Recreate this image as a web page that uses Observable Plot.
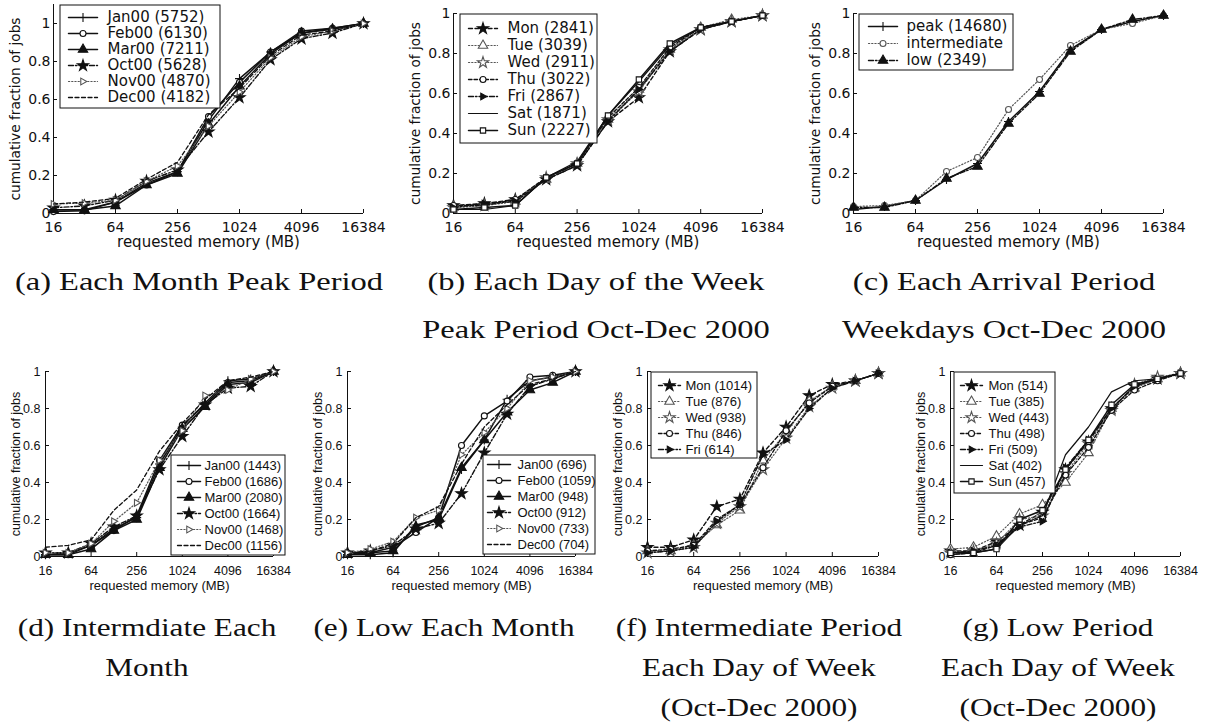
<!DOCTYPE html>
<html>
<head>
<meta charset="utf-8">
<script src="https://cdn.jsdelivr.net/npm/d3@7"></script>
<script src="https://cdn.jsdelivr.net/npm/@observablehq/plot@0.6"></script>
<style>
  body { margin: 0; background: #fff; }
  #fig { position: relative; width: 1206px; height: 725px; overflow: hidden; background: #fff; }
  .panel { position: absolute; }
  .panel svg { overflow: visible; }
  .cap {
    position: absolute; width: 400px; text-align: center; white-space: nowrap;
    font-family: "Liberation Serif", "Times New Roman", serif; color: #111;
    transform: scaleX(1.25); transform-origin: 50% 0;
  }
</style>
</head>
<body>
<div id="fig"></div>
<script>
// Requested memory bins (MB) shared by every panel
const memory = [16, 32, 64, 128, 256, 512, 1024, 2048, 4096, 8192, 16384];
const memoryTicks = [16, 64, 256, 1024, 4096, 16384];
const fractionTicks = [0, 0.2, 0.4, 0.6, 0.8, 1];

// (a) Each month, peak period
const monthLabelsPeak = ["Jan00 (5752)", "Feb00 (6130)", "Mar00 (7211)", "Oct00 (5628)", "Nov00 (4870)", "Dec00 (4182)"];
const jan00Peak = [0.02, 0.02, 0.06, 0.16, 0.22, 0.49, 0.71, 0.85, 0.95, 0.975, 1.0];
const feb00Peak = [0.01, 0.015, 0.06, 0.15, 0.22, 0.51, 0.69, 0.85, 0.96, 0.975, 1.0];
const mar00Peak = [0.02, 0.02, 0.04, 0.15, 0.21, 0.47, 0.67, 0.84, 0.95, 0.97, 1.0];
const oct00Peak = [0.03, 0.04, 0.07, 0.17, 0.23, 0.43, 0.61, 0.81, 0.92, 0.95, 1.0];
const nov00Peak = [0.05, 0.055, 0.07, 0.17, 0.25, 0.46, 0.64, 0.82, 0.93, 0.96, 1.0];
const dec00Peak = [0.05, 0.06, 0.08, 0.18, 0.27, 0.52, 0.66, 0.83, 0.94, 0.96, 1.0];

// (b) Each day of the week, peak period Oct-Dec 2000
const dayLabelsPeak = ["Mon (2841)", "Tue (3039)", "Wed (2911)", "Thu (3022)", "Fri (2867)", "Sat (1871)", "Sun (2227)"];
const monPeak = [0.04, 0.05, 0.07, 0.17, 0.24, 0.46, 0.58, 0.81, 0.92, 0.96, 0.99];
const tuePeak = [0.03, 0.04, 0.06, 0.17, 0.25, 0.47, 0.62, 0.82, 0.93, 0.97, 0.99];
const wedPeak = [0.03, 0.04, 0.06, 0.18, 0.25, 0.47, 0.61, 0.82, 0.92, 0.96, 0.99];
const thuPeak = [0.04, 0.04, 0.07, 0.18, 0.25, 0.48, 0.63, 0.83, 0.93, 0.96, 0.99];
const friPeak = [0.03, 0.05, 0.06, 0.17, 0.24, 0.46, 0.62, 0.81, 0.92, 0.96, 0.99];
const satPeak = [0.02, 0.02, 0.04, 0.18, 0.26, 0.49, 0.66, 0.84, 0.93, 0.96, 0.99];
const sunPeak = [0.02, 0.03, 0.04, 0.18, 0.25, 0.49, 0.67, 0.85, 0.93, 0.96, 0.99];

// (c) Each arrival period, weekdays Oct-Dec 2000
const periodLabels = ["peak (14680)", "intermediate", "low (2349)"];
const peakPeriod = [0.02, 0.035, 0.065, 0.17, 0.25, 0.46, 0.61, 0.82, 0.92, 0.96, 0.99];
const intermediatePeriod = [0.035, 0.04, 0.065, 0.21, 0.28, 0.52, 0.67, 0.84, 0.92, 0.95, 0.99];
const lowPeriod = [0.03, 0.03, 0.065, 0.175, 0.235, 0.45, 0.60, 0.81, 0.92, 0.97, 0.99];

// (d) Intermediate period, each month
const monthLabelsInter = ["Jan00 (1443)", "Feb00 (1686)", "Mar00 (2080)", "Oct00 (1664)", "Nov00 (1468)", "Dec00 (1156)"];
const jan00Inter = [0.01, 0.02, 0.06, 0.15, 0.21, 0.50, 0.70, 0.83, 0.95, 0.96, 1.0];
const feb00Inter = [0.01, 0.01, 0.06, 0.14, 0.22, 0.52, 0.71, 0.82, 0.94, 0.95, 1.0];
const mar00Inter = [0.01, 0.01, 0.04, 0.14, 0.20, 0.48, 0.69, 0.81, 0.93, 0.94, 1.0];
const oct00Inter = [0.02, 0.02, 0.07, 0.16, 0.22, 0.47, 0.65, 0.82, 0.91, 0.92, 1.0];
const nov00Inter = [0.02, 0.02, 0.07, 0.19, 0.29, 0.52, 0.68, 0.87, 0.90, 0.96, 1.0];
const dec00Inter = [0.05, 0.06, 0.09, 0.25, 0.36, 0.57, 0.72, 0.85, 0.95, 0.97, 1.0];

// (e) Low period, each month
const monthLabelsLow = ["Jan00 (696)", "Feb00 (1059)", "Mar00 (948)", "Oct00 (912)", "Nov00 (733)", "Dec00 (704)"];
const jan00Low = [0.01, 0.01, 0.02, 0.17, 0.20, 0.47, 0.63, 0.85, 0.95, 0.97, 1.0];
const feb00Low = [0.02, 0.02, 0.05, 0.13, 0.21, 0.60, 0.76, 0.84, 0.97, 0.98, 1.0];
const mar00Low = [0.01, 0.02, 0.03, 0.16, 0.21, 0.48, 0.63, 0.78, 0.90, 0.94, 1.0];
const oct00Low = [0.02, 0.03, 0.06, 0.15, 0.18, 0.34, 0.56, 0.77, 0.92, 0.96, 1.0];
const nov00Low = [0.02, 0.04, 0.08, 0.21, 0.25, 0.55, 0.67, 0.80, 0.95, 0.97, 1.0];
const dec00Low = [0.01, 0.03, 0.07, 0.21, 0.27, 0.50, 0.70, 0.82, 0.93, 0.96, 1.0];

// (f) Intermediate period, each weekday Oct-Dec 2000
const dayLabelsInter = ["Mon (1014)", "Tue (876)", "Wed (938)", "Thu (846)", "Fri (614)"];
const monInter = [0.05, 0.05, 0.09, 0.27, 0.31, 0.56, 0.70, 0.87, 0.93, 0.95, 0.99];
const tueInter = [0.03, 0.03, 0.06, 0.17, 0.25, 0.52, 0.67, 0.84, 0.92, 0.95, 0.99];
const wedInter = [0.02, 0.03, 0.05, 0.18, 0.27, 0.47, 0.64, 0.81, 0.91, 0.95, 0.99];
const thuInter = [0.03, 0.04, 0.06, 0.20, 0.28, 0.48, 0.68, 0.83, 0.92, 0.95, 0.99];
const friInter = [0.02, 0.03, 0.05, 0.19, 0.28, 0.55, 0.63, 0.80, 0.91, 0.95, 0.99];

// (g) Low period, each day of week Oct-Dec 2000
const dayLabelsLow = ["Mon (514)", "Tue (385)", "Wed (443)", "Thu (498)", "Fri (509)", "Sat (402)", "Sun (457)"];
const monLow = [0.03, 0.03, 0.08, 0.17, 0.24, 0.47, 0.62, 0.80, 0.92, 0.96, 0.99];
const tueLow = [0.04, 0.05, 0.11, 0.23, 0.28, 0.40, 0.56, 0.80, 0.91, 0.96, 0.99];
const wedLow = [0.02, 0.03, 0.07, 0.20, 0.22, 0.45, 0.61, 0.79, 0.93, 0.97, 0.99];
const thuLow = [0.01, 0.02, 0.06, 0.17, 0.21, 0.44, 0.59, 0.79, 0.90, 0.95, 0.99];
const friLow = [0.02, 0.03, 0.06, 0.16, 0.19, 0.48, 0.63, 0.80, 0.92, 0.96, 0.99];
const satLow = [0.01, 0.02, 0.04, 0.17, 0.22, 0.55, 0.70, 0.89, 0.95, 0.96, 0.99];
const sunLow = [0.02, 0.02, 0.04, 0.20, 0.25, 0.47, 0.63, 0.82, 0.93, 0.96, 0.99];

// A right-pointing triangle marker
const triangleRight = {
  draw(context, size) {
    const s = Math.sqrt(size) * 0.55;
    context.moveTo(s * 1.1, 0);
    context.lineTo(-s * 0.65, -s);
    context.lineTo(-s * 0.65, s);
    context.closePath();
  }
};

// Line and marker styles for each series kind
const INK = "#111", GREY = "#555";
const STYLES = {
  plus:      {color: INK,  width: 1.5, dash: null,          symbol: "plus",        fill: "none", r: 3},
  circle:    {color: INK,  width: 1.5, dash: null,          symbol: "circle",      fill: "#fff", r: 3},
  triangle:  {color: INK,  width: 1.5, dash: null,          symbol: "triangle",    fill: INK,    r: 3.5},
  dashStar:  {color: INK,  width: 1.4, dash: "5,2,1.5,2",   symbol: "star",        fill: INK,    r: 3.5},
  dotRight:  {color: GREY, width: 1.2, dash: "1.2,2",       symbol: triangleRight, fill: "#fff", r: 3.5},
  dashed:    {color: INK,  width: 1.3, dash: "4,2.5",       symbol: null},
  monStar:   {color: INK,  width: 1.4, dash: "4,2.5",       symbol: "star",        fill: INK,    r: 3.5},
  dotTri:    {color: GREY, width: 1.2, dash: "1.2,2",       symbol: "triangle",    fill: "#fff", r: 3.5},
  dotStar:   {color: GREY, width: 1.2, dash: "1.2,2",       symbol: "star",        fill: "#fff", r: 3.5},
  dashCircle:{color: INK,  width: 1.3, dash: "3.5,2",       symbol: "circle",      fill: "#fff", r: 3},
  dashRight: {color: INK,  width: 1.4, dash: "5,2,1.5,2",   symbol: triangleRight, fill: INK,    r: 3.5},
  solid:     {color: INK,  width: 1.2, dash: null,          symbol: null},
  square:    {color: INK,  width: 1.5, dash: null,          symbol: "square",      fill: "#fff", r: 3},
  dotCircle: {color: GREY, width: 1.2, dash: "1.2,2",       symbol: "circle",      fill: "#fff", r: 3},
  dashTri:   {color: INK,  width: 1.4, dash: "5,2,1.5,2",   symbol: "triangle",    fill: INK,    r: 3.5}
};

const monthStyles = ["plus", "circle", "triangle", "dashStar", "dotRight", "dashed"];
const dayStyles = ["monStar", "dotTri", "dotStar", "dashCircle", "dashRight", "solid", "square"];
const periodStyles = ["plus", "dotCircle", "dashTri"];

const TOP = {font: "DejaVu Sans", tick: 14, xLabel: 15, yLabel: 13.7, legend: 15,
             xPad: 13, yPad: 7, xLabelDy: 29, yLabelDx: -38};
const BOTTOM = {font: "Liberation Sans", tick: 12.5, xLabel: 13, yLabel: 12.5, legend: 13,
                xPad: 14, yPad: 9, xLabelDy: 29, yLabelDx: -30};

const fig = document.getElementById("fig");

function place(node, left, top) {
  const div = document.createElement("div");
  div.className = "panel";
  div.style.left = left + "px";
  div.style.top = top + "px";
  div.appendChild(node);
  fig.appendChild(div);
}

function chart(series, styleKeys, box, row) {
  const marks = [
    Plot.ruleX([16], {y1: 0, y2: box.yTop, stroke: INK, strokeWidth: 1}),
    Plot.ruleY([0], {x1: 16, x2: 16384, stroke: INK, strokeWidth: 1}),
    Plot.axisX({ticks: memoryTicks, tickFormat: d => `${d}`, tickSize: -4, tickPadding: row.xPad,
                fontSize: row.tick, label: null, stroke: INK, fill: INK}),
    Plot.axisY({ticks: fractionTicks, tickFormat: d => `${d}`, tickSize: -4, tickPadding: row.yPad,
                fontSize: row.tick, label: null, stroke: INK, fill: INK}),
    Plot.text(["requested memory (MB)"], {text: d => d, frameAnchor: "bottom", dy: row.xLabelDy,
                textAnchor: "middle", lineAnchor: "middle", fontSize: row.xLabel, fill: INK}),
    Plot.text(["cumulative fraction of jobs"], {text: d => d, frameAnchor: "left", dx: row.yLabelDx,
                rotate: -90, textAnchor: "middle", lineAnchor: "middle", fontSize: row.yLabel, fill: INK})
  ];
  series.forEach((values, i) => {
    const st = STYLES[styleKeys[i]];
    const rows = memory.map((m, j) => ({memory: m, fraction: values[j]}));
    marks.push(Plot.line(rows, {x: "memory", y: "fraction", stroke: st.color,
      strokeWidth: st.width, strokeDasharray: st.dash}));
    if (st.symbol) marks.push(Plot.dot(rows, {x: "memory", y: "fraction", symbol: st.symbol,
      r: st.r, fill: st.fill, stroke: st.color, strokeWidth: 1.1}));
  });
  return Plot.plot({
    width: box.width, height: box.height,
    marginLeft: box.ml, marginRight: box.mr, marginTop: box.mt, marginBottom: box.mb,
    x: {type: "log", base: 2, domain: [16, 16384]},
    y: {domain: [0, box.yTop]},
    style: {fontFamily: row.font, background: "transparent", color: INK},
    marks
  });
}

function legend(labels, styleKeys, box, row) {
  const mid = (box.sample[0] + box.sample[1]) / 2;
  const marks = [Plot.frame({stroke: INK, strokeWidth: 1, fill: "#fff", inset: 0.5})];
  labels.forEach((label, i) => {
    const st = STYLES[styleKeys[i]];
    const seg = box.sample.map(x => ({x, label}));
    marks.push(Plot.line(seg, {x: "x", y: "label", stroke: st.color,
      strokeWidth: st.width, strokeDasharray: st.dash}));
    if (st.symbol) marks.push(Plot.dot([{x: mid, label}], {x: "x", y: "label", symbol: st.symbol,
      r: st.r, fill: st.fill, stroke: st.color, strokeWidth: 1.1}));
  });
  marks.push(Plot.text(labels, {x: () => box.textX, y: d => d, text: d => d,
    textAnchor: "start", fontSize: row.legend, fill: INK}));
  return Plot.plot({
    width: box.width, height: box.height, margin: 0,
    x: {type: "identity", axis: null},
    y: {type: "point", domain: labels, range: box.rows, padding: 0, axis: null},
    style: {fontFamily: row.font, background: "transparent", color: INK},
    marks
  });
}

function caption(lines, center, top, size, lineHeight) {
  const div = document.createElement("div");
  div.className = "cap";
  div.style.left = (center - 200) + "px";
  div.style.top = top + "px";
  div.style.fontSize = size + "px";
  div.style.lineHeight = lineHeight + "px";
  div.innerHTML = lines.join("<br>");
  fig.appendChild(div);
}

// Top row
place(chart([jan00Peak, feb00Peak, mar00Peak, oct00Peak, nov00Peak, dec00Peak], monthStyles,
  {width: 400, height: 250, ml: 53, mr: 37, mt: 4, mb: 37, yTop: 1.1}, TOP), 0, 0);
place(chart([monPeak, tuePeak, wedPeak, thuPeak, friPeak, satPeak, sunPeak], dayStyles,
  {width: 400, height: 250, ml: 53, mr: 38, mt: 13, mb: 37, yTop: 1}, TOP), 400, 0);
place(chart([peakPeriod, intermediatePeriod, lowPeriod], periodStyles,
  {width: 400, height: 250, ml: 53, mr: 37, mt: 13, mb: 37, yTop: 1}, TOP), 800, 0);

place(legend(monthLabelsPeak, monthStyles, {width: 161, height: 104, rows: [12, 94], sample: [9, 38], textX: 48}, TOP), 59, 4);
place(legend(dayLabelsPeak, dayStyles, {width: 138, height: 130, rows: [12, 119], sample: [9, 38], textX: 48}, TOP), 459, 13);
place(legend(periodLabels, periodStyles, {width: 155, height: 57, rows: [12, 47], sample: [10, 39], textX: 48}, TOP), 858, 13);

// Bottom row
place(chart([jan00Inter, feb00Inter, mar00Inter, oct00Inter, nov00Inter, dec00Inter], monthStyles,
  {width: 300, height: 240, ml: 45, mr: 27, mt: 11, mb: 44, yTop: 1}, BOTTOM), 0, 360);
place(chart([jan00Low, feb00Low, mar00Low, oct00Low, nov00Low, dec00Low], monthStyles,
  {width: 300, height: 240, ml: 47, mr: 25, mt: 11, mb: 44, yTop: 1}, BOTTOM), 300, 360);
place(chart([monInter, tueInter, wedInter, thuInter, friInter], dayStyles.slice(0, 5),
  {width: 300, height: 240, ml: 47, mr: 22, mt: 11, mb: 44, yTop: 1}, BOTTOM), 600, 360);
place(chart([monLow, tueLow, wedLow, thuLow, friLow, satLow, sunLow], dayStyles,
  {width: 306, height: 240, ml: 50, mr: 26, mt: 11, mb: 44, yTop: 1}, BOTTOM), 900, 360);

place(legend(monthLabelsInter, monthStyles, {width: 115, height: 101, rows: [9, 92], sample: [7, 30], textX: 34}, BOTTOM), 170, 454);
place(legend(monthLabelsLow, monthStyles, {width: 113, height: 100, rows: [9, 91], sample: [5, 28], textX: 35}, BOTTOM), 482, 454);
place(legend(dayLabelsInter, dayStyles.slice(0, 5), {width: 107, height: 87, rows: [13, 78], sample: [8, 30], textX: 35}, BOTTOM), 650, 371);
place(legend(dayLabelsLow, dayStyles, {width: 102, height: 122, rows: [13, 111], sample: [7, 29], textX: 35}, BOTTOM), 953, 371);

// Sub-figure captions
caption(["(a) Each Month Peak Period"], 199, 258, 26, 48);
caption(["(b) Each Day of the Week", "Peak Period Oct-Dec 2000"], 596, 258, 26, 48);
caption(["(c) Each Arrival Period", "Weekdays Oct-Dec 2000"], 1004, 258, 26, 48);
caption(["(d) Intermdiate Each", "Month"], 147, 608, 25, 40);
caption(["(e) Low Each Month"], 444, 608, 25, 40);
caption(["(f) Intermediate Period", "Each Day of Week", "(Oct-Dec 2000)"], 759, 608, 25, 40);
caption(["(g) Low Period", "Each Day of Week", "(Oct-Dec 2000)"], 1058, 608, 25, 40);
</script>
</body>
</html>
